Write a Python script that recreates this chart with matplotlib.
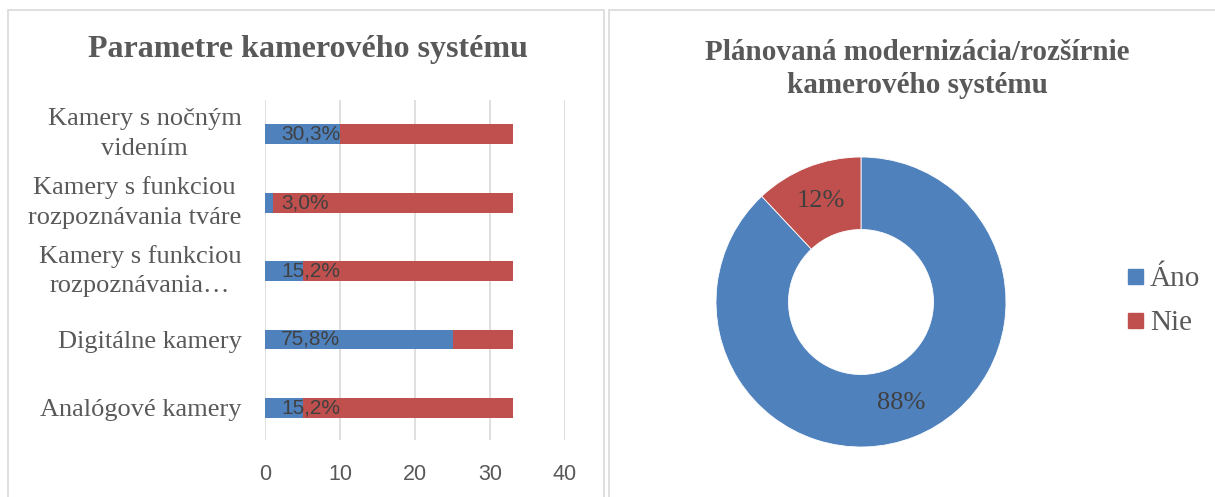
import matplotlib
matplotlib.use("Agg")
import matplotlib.pyplot as plt
from matplotlib.patches import Rectangle
from matplotlib.lines import Line2D

# ---- data ----
bar_categories = ["Analógové kamery", "Digitálne kamery",
                  "Kamery s funkciou\nrozpoznávania…",
                  "Kamery s funkciou\nrozpoznávania tváre",
                  "Kamery s nočným\nvidením"]
yes_counts = [5, 25, 5, 1, 10]
no_counts = [28, 8, 28, 32, 23]
bar_labels = ["15,2%", "75,8%", "15,2%", "3,0%", "30,3%"]
x_ticks = [0, 10, 20, 30, 40]

pie_labels = ["Áno", "Nie"]
pie_values = [88, 12]

BLUE = "#4F81BD"
RED = "#C0504D"
GRID = "#D9D9D9"
TXT = "#595959"
DARK = "#404040"

W, H = 1215, 497
fig = plt.figure(figsize=(W / 100, H / 100), dpi=100)

# panel borders
fig.patches.append(Rectangle((8 / W, -0.05), (604 - 8) / W, 1.05 - 10 / H,
                             transform=fig.transFigure, fill=False,
                             edgecolor=GRID, linewidth=1.2))
fig.patches.append(Rectangle((609 / W, -0.05), 0.7, 1.05 - 10 / H,
                             transform=fig.transFigure, fill=False,
                             edgecolor=GRID, linewidth=1.2))

# ---- bar chart ----
ax = fig.add_axes([265 / W, 1 - 440 / H, 300 / W, 340 / H])
ypos = list(range(len(bar_categories)))
ax.barh(ypos, yes_counts, height=0.29, color=BLUE, zorder=3)
ax.barh(ypos, no_counts, left=yes_counts, height=0.29, color=RED, zorder=3)
for y, lab in zip(ypos, bar_labels):
    ax.annotate(lab, xy=(0, y), xytext=(16, 0), textcoords="offset pixels",
                ha="left", va="center", fontsize=15, color=DARK,
                family="Liberation Sans", zorder=4)
ax.set_xlim(0, 40)
ax.set_ylim(-0.47, 4.5)
ax.set_xticks(x_ticks)
ax.set_xticklabels([str(t) for t in x_ticks], family="Liberation Sans",
                   fontsize=15.5, color=TXT)
ax.set_yticks(ypos)
ax.set_yticklabels(bar_categories, family="Liberation Serif", fontsize=19,
                   color=TXT, linespacing=1.45)
for t in ax.get_yticklabels():
    t.set_multialignment("center")
    if "\n" in t.get_text():
        t.set_verticalalignment("center")
ax.tick_params(axis="both", length=0)
ax.tick_params(axis="y", pad=17)
ax.tick_params(axis="x", pad=17)
ax.grid(axis="x", color=GRID, linewidth=1.2, zorder=0)
for s in ax.spines.values():
    s.set_visible(False)

fig.text(307.5 / W, 1 - 50 / H, "Parametre kamerového systému",
         ha="center", va="center", family="Liberation Serif",
         fontweight="bold", fontsize=23, color=TXT)

# ---- donut chart ----
ax2 = fig.add_axes([716 / W, 1 - 447 / H, 290 / W, 290 / H])
wedges, texts, autotexts = ax2.pie(
    pie_values, colors=[BLUE, RED], startangle=90, counterclock=False,
    autopct=lambda p: f"{p:.0f}%", pctdistance=0.75,
    wedgeprops=dict(width=0.5, edgecolor="white", linewidth=0.6),
    textprops=dict(family="Liberation Serif", fontsize=19, color=DARK))
ax2.set_xlim(-1, 1)
ax2.set_ylim(-1, 1)
ax2.set_aspect("equal")

fig.text(917 / W, 1 - 69 / H,
         "Plánovaná modernizácia/rozšírnie\nkamerového systému",
         ha="center", va="center", family="Liberation Serif",
         fontweight="bold", fontsize=21, color=TXT, linespacing=1.3)

handles = [Line2D([], [], marker="s", linestyle="", markersize=10.8,
                  markerfacecolor=c, markeredgecolor=c) for c in (BLUE, RED)]
fig.legend(handles, pie_labels, loc="center left",
           bbox_to_anchor=(1112 / W, 1 - 301 / H), frameon=False,
           prop=dict(family="Liberation Serif", size=21),
           labelcolor=TXT, handlelength=0.6, handletextpad=0.2,
           labelspacing=0.62, borderpad=0)

fig.savefig("out.png", dpi=100)
